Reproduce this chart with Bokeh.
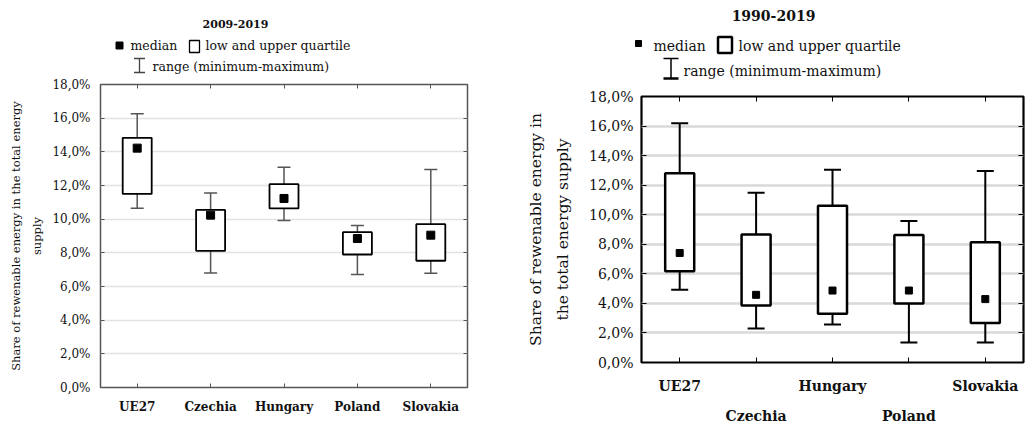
from bokeh.plotting import figure
from bokeh.models import (Range1d, FactorRange, LinearAxis, CategoricalAxis, FixedTicker,
                          CustomJSTickFormatter, ColumnDataSource, CustomLabelingPolicy)
from bokeh.layouts import row, column
from bokeh.core.properties import value
from bokeh.embed import file_html
from bokeh.resources import INLINE

# ---------------- data ----------------
countries = ["UE27", "Czechia", "Hungary", "Poland", "Slovakia"]

# 2009-2019 (share of renewable energy, %)
min_0919 = [10.65, 6.80, 9.92, 6.71, 6.79]
q1_0919 = [11.50, 8.12, 10.64, 7.90, 7.53]
med_0919 = [14.22, 10.24, 11.23, 8.85, 9.05]
q3_0919 = [14.83, 10.55, 12.08, 9.23, 9.70]
max_0919 = [16.26, 11.55, 13.09, 9.63, 12.95]

# 1990-2019 (share of renewable energy, %)
min_9019 = [4.93, 2.30, 2.57, 1.36, 1.36]
q1_9019 = [6.17, 3.86, 3.30, 4.00, 2.68]
med_9019 = [7.41, 4.58, 4.87, 4.87, 4.29]
q3_9019 = [12.80, 8.67, 10.61, 8.62, 8.13]
max_9019 = [16.19, 11.48, 13.04, 9.58, 12.96]

y_ticks = [0, 2, 4, 6, 8, 10, 12, 14, 16, 18]

FONT = "DejaVu Serif"
fmt = CustomJSTickFormatter(code="return tick.toFixed(1).replace('.', ',') + '%';")


def no_labels():
    return CustomLabelingPolicy(code="return [];")


def legend_fig(w, h):
    p = figure(width=w, height=h, x_range=Range1d(0, w), y_range=Range1d(h, 0),
               x_axis_type=None, y_axis_type=None, toolbar_location=None,
               output_backend="svg", min_border=0, min_border_left=0, min_border_right=0,
               min_border_top=0, min_border_bottom=0, frame_align=False)
    p.grid.visible = False
    p.outline_line_color = None
    return p


def box_plot(w, h, mins, q1, med, q3, maxs, s):
    p = figure(width=w, height=h, x_range=FactorRange(*countries), y_range=Range1d(0, 18),
               toolbar_location=None, output_backend="svg", frame_align=False,
               min_border_left=s["bl"], min_border_right=s["br"],
               min_border_top=s["bt"], min_border_bottom=s["bb"])
    p.outline_line_color = s["frame"]
    p.outline_line_width = s["frame_w"]
    p.xgrid.visible = False
    p.ygrid.grid_line_color = s["grid"]
    p.ygrid.grid_line_width = s["grid_w"]
    p.ygrid.ticker = FixedTicker(ticks=y_ticks)

    # y axis (left)
    ya = p.left[0]
    ya.ticker = FixedTicker(ticks=y_ticks)
    ya.formatter = fmt
    ya.axis_line_color = None
    ya.major_tick_in = s["tick"]
    ya.major_tick_out = 0
    ya.major_tick_line_color = s["frame"]
    ya.minor_tick_line_color = None
    ya.major_label_standoff = s["ylab_so"]
    ya.major_label_text_font = FONT
    ya.major_label_text_font_size = s["ylab_fs"]
    ya.major_label_text_color = "#111111"
    ya.axis_label = s["ytitle2"]
    ya.axis_label_standoff = s["yt2_so"]
    ya.axis_label_text_font = FONT
    ya.axis_label_text_font_size = s["yt_fs"]
    ya.axis_label_text_font_style = "normal"
    ya.axis_label_text_color = "#111111"

    ya2 = LinearAxis(ticker=FixedTicker(ticks=[]), axis_line_color=None,
                     major_tick_line_color=None, minor_tick_line_color=None,
                     major_label_standoff=0, major_label_policy=no_labels(),
                     axis_label=s["ytitle1"],
                     axis_label_standoff=s["yt1_so"], axis_label_text_font=FONT,
                     axis_label_text_font_size=s["yt_fs"], axis_label_text_font_style="normal",
                     axis_label_text_color="#111111")
    p.add_layout(ya2, "left")

    # right mirror axis (ticks only)
    yr = LinearAxis(ticker=FixedTicker(ticks=y_ticks), axis_line_color=None,
                    major_tick_in=s["tick"], major_tick_out=0,
                    major_tick_line_color=s["frame"], minor_tick_line_color=None,
                    major_label_policy=no_labels(), major_label_text_font_size="1px",
                    major_label_standoff=0)
    p.add_layout(yr, "right")
    # top mirror axis (ticks only)
    xt = CategoricalAxis(axis_line_color=None, major_tick_in=s["tick"], major_tick_out=0,
                         major_tick_line_color=s["frame"], major_label_policy=no_labels(),
                         major_label_text_font_size="1px", major_label_standoff=0)
    p.add_layout(xt, "above")

    # bottom axis
    xa = p.below[0]
    xa.axis_line_color = None
    xa.major_tick_in = s["tick"]
    xa.major_tick_out = 0
    xa.major_tick_line_color = s["frame"]
    xa.major_label_standoff = s["xlab_so"]
    xa.major_label_text_font = FONT
    xa.major_label_text_font_size = s["xlab_fs"]
    xa.major_label_text_font_style = "bold"
    xa.major_label_text_color = "#111111"
    if s["stagger"]:
        # first row: UE27, Hungary, Slovakia ; second row: Czechia, Poland
        xa.major_label_policy = CustomLabelingPolicy(code="return [0, 2, 4];")
        xb = CategoricalAxis(axis_line_color=None, major_tick_line_color=None,
                             minor_tick_line_color=None, major_tick_in=0, major_tick_out=0,
                             major_label_standoff=s["xlab2_so"], major_label_text_font=FONT,
                             major_label_text_font_size=s["xlab_fs"],
                             major_label_text_font_style="bold",
                             major_label_text_color="#111111",
                             major_label_policy=CustomLabelingPolicy(code="return [1, 3];"))
        p.add_layout(xb, "below")

    src = ColumnDataSource(dict(c=countries, lo=mins, q1=q1, med=med, q3=q3, hi=maxs))
    p.segment(x0="c", y0="lo", x1="c", y1="hi", source=src,
              line_color=s["whisk"], line_width=s["whisk_w"])
    p.scatter(x="c", y="hi", source=src, marker="dash", size=s["cap"],
              line_color=s["whisk"], line_width=s["whisk_w"])
    p.scatter(x="c", y="lo", source=src, marker="dash", size=s["cap"],
              line_color=s["whisk"], line_width=s["whisk_w"])
    p.vbar(x="c", bottom="q1", top="q3", width=s["box_w"], source=src,
           fill_color="white", line_color="black", line_width=s["box_lw"])
    p.scatter(x="c", y="med", source=src, marker="square", size=s["med_sz"],
              fill_color="black", line_color="black")
    return p


# ---------------- left panel ----------------
sl = dict(bl=100, br=49, bt=8, bb=39, frame="#555555", frame_w=1.5, grid="#e3e3e3", grid_w=1.5,
          tick=4, ylab_so=10, ylab_fs="12px", ytitle2="supply", yt2_so=5,
          ytitle1="Share of rewenable energy in the total energy", yt1_so=5, yt_fs="11.5px",
          xlab_so=12, xlab_fs="12px", stagger=False, whisk="#555555", whisk_w=1.5,
          cap=13, box_w=0.395, box_lw=1.8, med_sz=8)
plot_l = box_plot(516, 350, min_0919, q1_0919, med_0919, q3_0919, max_0919, sl)

top_l = legend_fig(516, 76)
top_l.text(x=[235], y=[23], text=["2009-2019"], text_font=value(FONT), text_font_size="11px",
           text_font_style="bold", text_align="center", text_baseline="middle", text_color="#111111")
top_l.scatter(x=[119], y=[45], marker="square", size=7, fill_color="black", line_color="black")
top_l.text(x=[130, 205, 152], y=[45, 45, 66],
           text=["median", "low and upper quartile", "range (minimum-maximum)"],
           text_font=value(FONT), text_font_size="12.5px", text_align="left",
           text_baseline="middle", text_color="#111111")
top_l.rect(x=[194], y=[46], width=10, height=12, fill_color="white", line_color="black", line_width=1.3)
top_l.segment(x0=[139, 133.5, 133.5], y0=[58, 58, 72], x1=[139, 144.5, 144.5], y1=[72, 58, 72],
              line_color="#444444", line_width=1.3)

# ---------------- right panel ----------------
sr = dict(bl=125, br=4, bt=12, bb=62, frame="black", frame_w=2.2, grid="#d9d9d9", grid_w=2.5,
          tick=5, ylab_so=8, ylab_fs="14px", ytitle2="the total energy supply", yt2_so=14,
          ytitle1="Share of rewenable energy in", yt1_so=7, yt_fs="15.5px",
          xlab_so=15, xlab2_so=11, xlab_fs="14px", stagger=True, whisk="black", whisk_w=2,
          cap=17, box_w=0.38, box_lw=2.5, med_sz=7)
plot_r = box_plot(511, 342, min_9019, q1_9019, med_9019, q3_9019, max_9019, sr)

top_r = legend_fig(511, 84)
top_r.text(x=[257], y=[15], text=["1990-2019"], text_font=value(FONT), text_font_size="14px",
           text_font_style="bold", text_align="center", text_baseline="middle", text_color="#111111")
top_r.scatter(x=[122], y=[43], marker="square", size=6, fill_color="black", line_color="black")
top_r.text(x=[137, 222, 167], y=[45, 45, 70],
           text=["median", "low and upper quartile", "range (minimum-maximum)"],
           text_font=value(FONT), text_font_size="14px", text_align="left",
           text_baseline="middle", text_color="#111111")
top_r.rect(x=[208.5], y=[44.5], width=14, height=16, fill_color="white", line_color="black", line_width=2.5)
top_r.segment(x0=[154.5, 147, 147], y0=[58, 58, 78], x1=[154.5, 162, 162], y1=[78, 58, 78],
              line_color="black", line_width=[1.5, 1.5, 2.5])

layout = row(column(top_l, plot_l), column(top_r, plot_r))
open("out.html", "w").write(file_html(layout, INLINE))
